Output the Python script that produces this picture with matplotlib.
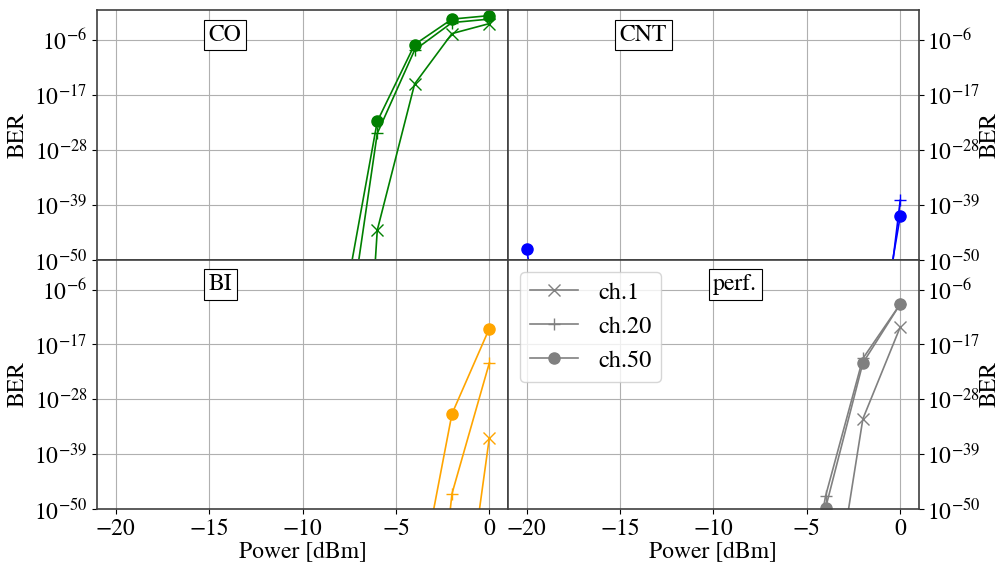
import numpy as np
import matplotlib
matplotlib.use('Agg')
import matplotlib.pyplot as plt
from matplotlib.ticker import NullLocator

plt.rcParams['font.family'] = ['STIXGeneral', 'DejaVu Serif']
plt.rcParams['mathtext.fontset'] = 'stix'
plt.rcParams['font.size'] = 17

# power sweep in dBm
power = np.arange(-20, 1, 2)

# log10(BER), -300 = far below the plotted range
co_ch1 = [-300, -300, -300, -300, -300, -300, -162, -44.1, -14.8, -4.7, -2.7]
co_ch20 = [-300, -300, -300, -300, -300, -300, -76, -24.7, -8.0, -2.5, -1.8]
co_ch50 = [-300, -300, -300, -300, -300, -300, -63.6, -22.3, -6.9, -1.8, -1.1]

cnt_ch1 = [-300, -300, -300, -300, -300, -300, -300, -300, -300, -300, -60]
cnt_ch20 = [-300, -300, -300, -300, -300, -300, -300, -300, -300, -100, -38.1]
cnt_ch50 = [-47.9, -97, -300, -300, -300, -300, -300, -300, -300, -85, -41.3]

bi_ch1 = [-300, -300, -300, -300, -300, -300, -300, -300, -300, -90, -35.7]
bi_ch20 = [-300, -300, -300, -300, -300, -300, -300, -300, -116, -46.9, -20.7]
bi_ch50 = [-300, -300, -300, -300, -300, -300, -300, -300, -70, -30.9, -13.8]

perf_ch1 = [-300, -300, -300, -300, -300, -300, -300, -300, -79, -31.9, -13.5]
perf_ch20 = [-300, -300, -300, -300, -300, -300, -300, -90, -47.4, -19.8, -8.9]
perf_ch50 = [-300, -300, -300, -300, -300, -300, -300, -95, -49.8, -20.7, -8.9]

panels = [
    ('CO', 'green', [co_ch1, co_ch20, co_ch50], (0.311, 0.90)),
    ('CNT', 'blue', [cnt_ch1, cnt_ch20, cnt_ch50], (0.329, 0.90)),
    ('BI', 'orange', [bi_ch1, bi_ch20, bi_ch50], (0.300, 0.90)),
    ('perf.', 'gray', [perf_ch1, perf_ch20, perf_ch50], (0.553, 0.90)),
]
labels = ['ch.1', 'ch.20', 'ch.50']
markers = ['x', '+', 'o']

yticks = [1e-50, 1e-39, 1e-28, 1e-17, 1e-6]

fig, axes = plt.subplots(2, 2, figsize=(10.01, 5.62), dpi=100)
fig.subplots_adjust(left=0.097, right=0.918, top=0.982, bottom=0.094,
                    wspace=0, hspace=0)

for ax, (name, color, series, pos) in zip(axes.flat, panels):
    for vals, lab, m in zip(series, labels, markers):
        ax.plot(power, 10.0 ** np.array(vals), marker=m, color=color,
                lw=1.2, ms=8 if m == 'o' else 9, mew=1.0, label=lab)
    ax.set_yscale('log')
    ax.set_ylim(1e-50, 1)
    ax.set_xlim(-21, 1)
    ax.set_yticks(yticks)
    ax.yaxis.set_minor_locator(NullLocator())
    ax.set_xticks([-20, -15, -10, -5, 0])
    ax.grid(True, color='#b0b0b0', lw=0.8)
    ax.set_axisbelow(True)
    for s in ax.spines.values():
        s.set_color('#404040')
        s.set_linewidth(1.2)
    ax.text(pos[0], pos[1], name, transform=ax.transAxes, ha='center',
            va='center', fontsize=17,
            bbox=dict(boxstyle='square,pad=0.2', fc='white', ec='black', lw=0.8))

for ax in axes[:, 0]:
    ax.set_ylabel('BER', labelpad=4)
for ax in axes[0]:
    ax.tick_params(labelbottom=False)
for ax in axes[1]:
    ax.set_xlabel('Power [dBm]', labelpad=1)
for ax in axes[:, 1]:
    ax.yaxis.tick_right()
    ax.tick_params(axis='y', pad=2.5)
    ax.yaxis.set_label_position('right')
    ax.set_ylabel('BER', labelpad=-1)

leg_handles = []
for lab, m in zip(labels, markers):
    h, = axes[1, 1].plot([], [], marker=m, color='gray', lw=1.2,
                         ms=8 if m == 'o' else 9, label=lab)
    leg_handles.append(h)
axes[1, 1].legend(handles=leg_handles, loc='upper left', fontsize=17.5)

plt.savefig('out.png', dpi=100)
